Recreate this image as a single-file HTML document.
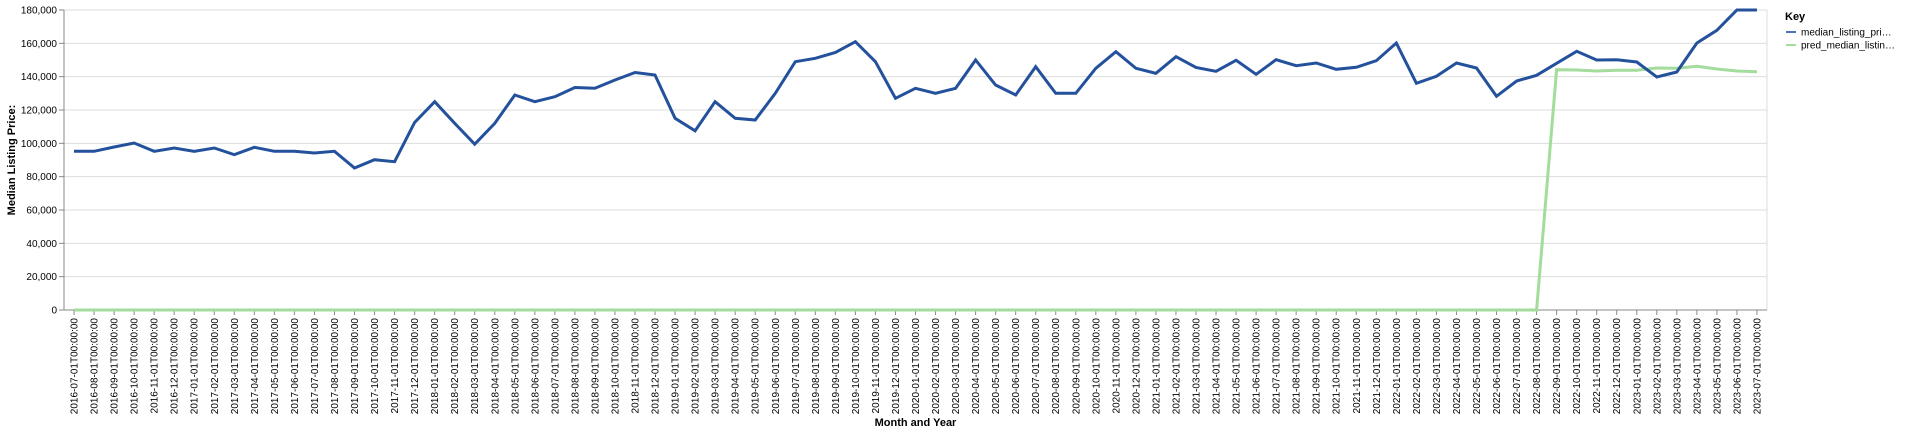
<!DOCTYPE html>
<html><head><meta charset="utf-8"><style>
html,body{margin:0;padding:0;background:#fff;width:1920px;height:434px;overflow:hidden}
svg{font-family:"Liberation Sans",sans-serif;display:block}
</style></head><body>
<svg id="chart" width="1920" height="434" xmlns="http://www.w3.org/2000/svg"></svg>
<script>
const categories = (function(){const a=[];let y=2016,m=7;for(let i=0;i<85;i++){a.push(y+'-'+String(m).padStart(2,'0')+'-01T00:00:00');m++;if(m>12){m=1;y++;}}return a;})();
const medianValues = [95200,95200,97800,100200,95200,97200,95200,97200,93200,97600,95200,95200,94200,95200,85200,90200,89000,112500,125000,112000,99500,112000,129000,125000,128000,133500,133000,138000,142500,141000,115000,107500,125000,115000,114000,130000,149000,151000,154500,161000,149000,127000,133000,130000,133000,150000,135000,129000,146000,130000,130000,145000,155000,145000,142000,152000,145500,143200,149800,141400,150200,146600,148200,144400,145600,149600,160200,136000,140200,148200,145200,128200,137400,140800,148000,155200,150000,150200,148800,139800,142800,160200,167800,180000,180000];
const predValues = [0,0,0,0,0,0,0,0,0,0,0,0,0,0,0,0,0,0,0,0,0,0,0,0,0,0,0,0,0,0,0,0,0,0,0,0,0,0,0,0,0,0,0,0,0,0,0,0,0,0,0,0,0,0,0,0,0,0,0,0,0,0,0,0,0,0,0,0,0,0,0,0,0,0,144200,144000,143400,143800,143800,145200,145000,146200,144600,143400,143000];
const yTicks = [0,20000,40000,60000,80000,100000,120000,140000,160000,180000];
const seriesNames = ['median_listing_pri…','pred_median_listin…'];

const NS='http://www.w3.org/2000/svg';
const svg=document.getElementById('chart');
const L=64,R=1767,T=10,B=310,yMax=180000;
const bw=(R-L)/categories.length;
function x(i){return L+bw*(i+0.5);}
function y(v){return B-(v/yMax)*(B-T);}
function mk(tag,attrs,parent){const e=document.createElementNS(NS,tag);for(const k in attrs)e.setAttribute(k,attrs[k]);(parent||svg).appendChild(e);return e;}

const grid=mk('g',{});


yTicks.forEach(t=>{
  const l=mk('line',{x1:L,x2:R,y1:y(t),y2:y(t),stroke:'#dddddd','stroke-width':1},grid);
  
  
});
mk('line',{x1:R,x2:R,y1:T,y2:B,stroke:'#dddddd'},grid);

const yAxis=mk('g',{});


mk('line',{x1:L,x2:L,y1:T,y2:B,stroke:'#888','stroke-width':1},yAxis);
yTicks.forEach(t=>{
  mk('line',{x1:L-5,x2:L,y1:y(t),y2:y(t),stroke:'#888'},yAxis);
  const tx=mk('text',{x:L-7,y:y(t)+3.5,'text-anchor':'end','font-size':10,fill:'#000'},yAxis);
  tx.textContent=t.toLocaleString('en-US');
  
  
});
const yt=mk('text',{x:0,y:0,transform:'translate(15,160) rotate(-90)','text-anchor':'middle','font-size':11,'font-weight':'bold',fill:'#000'});
yt.textContent='Median Listing Price:';



const xAxis=mk('g',{});


mk('line',{x1:L,x2:R,y1:B,y2:B,stroke:'#888'},xAxis);
categories.forEach((c,i)=>{
  mk('line',{x1:x(i),x2:x(i),y1:B,y2:B+5,stroke:'#888'},xAxis);
  const tx=mk('text',{x:0,y:0,transform:'translate('+(x(i)+3.5)+','+(B+8)+') rotate(-90)','text-anchor':'end','font-size':10,fill:'#000'},xAxis);
  tx.textContent=c;
  
  
});
const xt=mk('text',{x:(L+R)/2,y:426,'text-anchor':'middle','font-size':11,'font-weight':'bold',fill:'#000'});
xt.textContent='Month and Year';



function line(vals,color,name){
  const d=vals.map((v,i)=>(i?'L':'M')+x(i).toFixed(1)+','+y(v).toFixed(1)).join(' ');
  const p=mk('path',{d:d,fill:'none',stroke:color,'stroke-width':3,'stroke-linejoin':'miter'});
  
  
}
line(predValues,'#a3dc9c','pred-median-line');
line(medianValues,'#24519c','median-listing-price-line');

const lg=mk('g',{});


const kt=mk('text',{x:1785,y:20,'font-size':11,'font-weight':'bold',fill:'#000'},lg);
kt.textContent='Key';
const colors=['#4a76b8','#a3dc9c'];
seriesNames.forEach((n,i)=>{
  const g=mk('g',{},lg);
  
  
  mk('line',{x1:1786,x2:1796,y1:32+i*13,y2:32+i*13,stroke:colors[i],'stroke-width':2},g);
  const t=mk('text',{x:1801,y:35.5+i*13,'font-size':10,fill:'#000'},g);
  t.textContent=n;
});
</script>
</body></html>
